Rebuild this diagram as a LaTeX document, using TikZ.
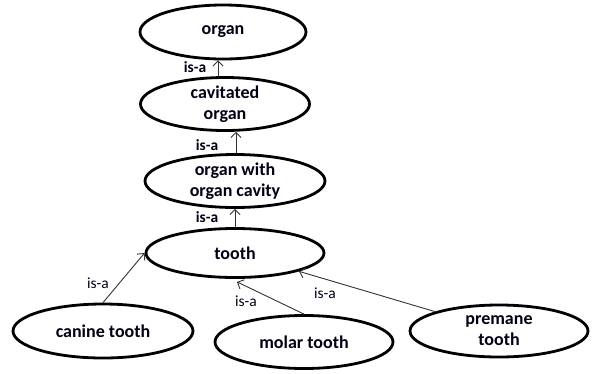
\documentclass[tikz,border=0pt]{standalone}
\usepackage{fontspec}
\setmainfont{Carlito}
\usetikzlibrary{shapes.geometric,arrows.meta}
\begin{document}
\begin{tikzpicture}[x=1pt,y=-1pt,
  ent/.style={ellipse,draw=black,line width=2.8pt,fill=white,inner sep=0pt,align=center,
    font=\fontsize{18}{21}\selectfont\bfseries,text=black!92!blue},
  arr/.style={draw=black!80,line width=0.9pt,-{Straight Barb[length=5pt,width=10pt]}},
  lbl/.style={font=\fontsize{15.5}{18}\selectfont,text=black!92!blue,inner sep=0pt}]
\useasboundingbox[fill=white] (0,0) rectangle (595,373);
\node[ent,minimum width=166pt,minimum height=54pt] (organ) at (223,32) {organ};
\node[ent,minimum width=169pt,minimum height=53pt] (cav) at (225,104) {cavitated\\organ};
\node[ent,minimum width=180pt,minimum height=53pt] (ocav) at (235,181) {organ with\\organ cavity};
\node[ent,minimum width=178pt,minimum height=49pt] (tooth) at (235,253) {tooth};
\node[ent,minimum width=180pt,minimum height=54pt] (canine) at (103,331) {canine tooth};
\node[ent,minimum width=178pt,minimum height=53pt] (molar) at (304,342) {molar tooth};
\node[ent,minimum width=178pt,minimum height=52pt] (premane) at (499,331) {premane\\tooth};
\draw[arr] ([xshift=-7pt]cav.north) -- ([xshift=-5pt]organ.south);
\draw[arr] ([xshift=1pt]ocav.north) -- ([xshift=1pt]ocav.north |- cav.south);
\draw[arr] (tooth.north) -- (tooth.north |- ocav.south);
\draw[arr] (canine.north) -- (tooth.west);
\draw[arr] (molar.north) -- ([xshift=2pt,yshift=-3pt]tooth.south);
\draw[arr] (premane.north west) -- (tooth.south east);
\node[lbl] (l1) at (195,67) {\textbf{is-a}};
\node[lbl] (l2) at (207,145) {\textbf{is-a}};
\node[lbl] (l3) at (207,217) {\textbf{is-a}};
\node[lbl] (l4) at (98,283) {is-a};
\node[lbl] (l5) at (246,301) {is-a};
\node[lbl] (l6) at (325,293) {is-a};
\end{tikzpicture}
\end{document}
